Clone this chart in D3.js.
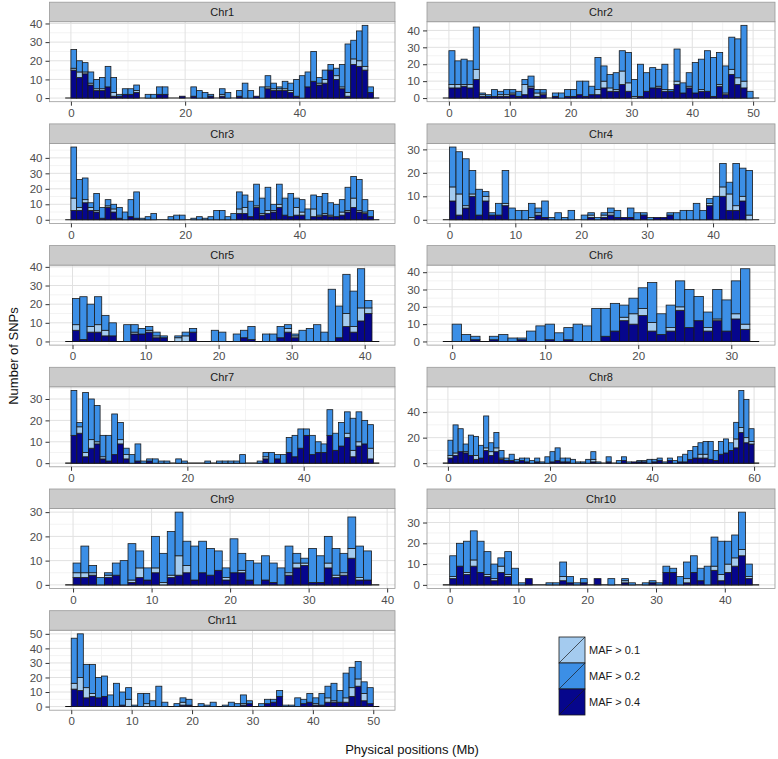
<!DOCTYPE html>
<html>
<head>
<meta charset="utf-8">
<script src="https://cdn.jsdelivr.net/npm/d3@7"></script>
<style>
  body { margin: 0; background: #fff; }
  text { font-family: "Liberation Sans", Arial, sans-serif; }
</style>
</head>
<body>
<svg id="chart" width="778" height="759"></svg>
<script>
// one row per 1 Mb bin: [all SNPs, MAF > 0.4 part, MAF > 0.1 part]; MAF > 0.2 part is the rest
var chr1 = [[26,15,1],[20,11,3],[19,13,1],[14,7,1],[10,4,1],[11,4,1],[17,6,0],[11,1,2],[2,1,0],[5,2,0],
  [5,2,0],[7,3,1],[0,0,0],[2,0,0],[2,0,0],[6,2,0],[6,2,0],[0,0,0],[0,0,0],[1,1,0],
  [0,0,0],[6,1,0],[4,0,0],[3,0,0],[2,1,0],[0,0,0],[5,1,1],[3,0,0],[0,0,0],[4,1,0],
  [8,0,0],[4,0,0],[1,1,0],[6,0,0],[12,5,1],[8,4,1],[6,4,1],[9,4,1],[8,3,1],[10,1,0],
  [12,0,0],[14,6,0],[25,9,0],[11,7,1],[15,8,2],[18,15,0],[16,10,2],[18,5,1],[29,1,2],[31,18,3],
  [36,17,3],[39,15,2],[6,3,0]];
var chr2 = [[28,6,2],[22,6,2],[23,7,1],[22,6,2],[42,11,6],[3,1,1],[2,1,0],[5,1,0],[4,1,1],[5,1,1],
  [5,2,1],[4,1,0],[11,2,6],[13,6,1],[5,1,2],[5,2,1],[0,0,0],[3,1,0],[3,0,0],[5,1,0],
  [5,1,0],[10,2,0],[10,1,0],[7,2,0],[24,2,3],[19,6,4],[14,4,2],[15,4,1],[28,8,8],[27,4,5],
  [11,0,1],[20,1,0],[15,4,0],[18,6,0],[17,6,1],[20,4,1],[5,4,0],[29,8,2],[9,3,0],[15,6,1],
  [21,3,0],[23,4,1],[28,4,0],[24,1,0],[27,7,1],[19,2,1],[36,14,3],[35,8,4],[43,6,4],[4,0,0]];
var chr3 = [[47,6,8],[26,6,2],[27,11,2],[11,6,2],[17,5,1],[8,1,0],[13,8,1],[10,5,2],[8,1,0],[5,0,0],
  [13,2,0],[18,1,0],[1,0,0],[2,0,0],[4,0,0],[0,0,0],[0,0,0],[2,0,0],[3,0,0],[3,0,0],
  [0,0,0],[1,0,0],[2,0,0],[1,0,0],[2,0,0],[6,0,0],[6,0,0],[2,0,0],[4,0,0],[18,4,3],
  [16,4,4],[12,2,0],[23,8,1],[14,3,1],[21,4,2],[10,5,1],[23,8,2],[14,3,0],[17,2,0],[14,3,5],
  [13,3,2],[7,0,0],[16,2,5],[15,2,1],[17,3,1],[11,2,1],[10,2,0],[13,3,2],[21,5,1],[28,8,6],
  [26,5,1],[13,4,1],[6,2,0]];
var chr4 = [[31,8,6],[29,2,9],[26,5,1],[21,10,1],[13,2,0],[12,8,2],[3,2,0],[7,2,0],[21,6,1],[5,0,0],
  [4,0,0],[4,0,0],[7,0,1],[5,2,1],[8,1,0],[1,0,0],[3,0,0],[1,0,0],[4,0,0],[0,0,0],
  [2,0,0],[3,1,1],[1,0,0],[3,1,1],[5,2,1],[4,1,0],[1,1,0],[5,1,0],[3,0,0],[3,2,0],
  [1,0,0],[1,1,0],[1,1,0],[3,2,0],[3,0,0],[4,0,0],[4,0,0],[7,0,0],[4,0,0],[9,6,1],
  [10,0,0],[24,10,4],[16,4,7],[24,4,2],[22,8,2],[21,0,2]];
var chr5 = [[23,6,3],[24,1,0],[20,5,3],[24,5,4],[14,3,3],[10,3,0],[0,0,0],[9,0,0],[9,4,1],[7,4,0],
  [8,5,1],[5,2,1],[3,2,0],[0,0,0],[3,0,2],[5,0,3],[7,5,0],[0,0,0],[0,0,0],[6,0,0],
  [5,0,0],[0,0,0],[4,0,0],[6,2,0],[8,1,0],[0,0,0],[4,0,0],[4,0,0],[8,2,0],[9,5,2],
  [4,2,1],[6,0,0],[7,0,0],[9,0,0],[5,0,0],[28,0,0],[19,2,0],[36,8,7],[27,5,3],[39,11,7],
  [22,15,3]];
var chr6 = [[10,0,0],[4,0,0],[3,1,0],[0,0,0],[3,1,0],[4,0,0],[2,0,0],[2,1,0],[6,0,0],[9,0,0],
  [10,1,0],[5,0,0],[8,1,0],[10,0,0],[9,0,0],[19,0,0],[19,3,0],[22,6,0],[21,12,2],[25,10,6],
  [31,15,4],[34,6,5],[16,4,0],[21,6,2],[35,18,2],[30,8,0],[26,12,0],[17,6,2],[30,12,1],[24,6,0],
  [35,13,3],[42,7,3]];
var chr7 = [[34,13,0],[19,14,3],[33,3,2],[30,7,4],[27,9,1],[13,2,1],[13,1,0],[23,4,0],[19,9,2],[7,2,2],
  [4,0,0],[9,1,0],[1,0,0],[2,1,0],[2,0,0],[1,0,0],[1,0,0],[0,0,0],[2,0,0],[1,0,0],
  [0,0,0],[0,0,0],[0,0,0],[1,0,0],[0,0,0],[1,0,0],[1,0,0],[1,0,0],[1,0,0],[4,0,0],
  [0,0,0],[0,0,0],[1,0,0],[5,2,1],[5,0,0],[4,2,0],[4,0,0],[12,5,0],[13,3,0],[16,7,0],
  [16,13,0],[13,4,0],[10,5,0],[9,5,0],[25,13,0],[14,6,0],[19,8,0],[24,12,2],[21,3,3],[24,8,2],
  [20,9,0],[18,2,5]];
var chr8 = [[18,4,2],[30,6,2],[27,9,0],[15,8,1],[22,6,0],[21,3,3],[14,4,0],[37,10,2],[16,6,3],[24,9,3],
  [10,3,1],[4,2,0],[7,2,0],[3,1,0],[4,2,0],[4,1,0],[2,0,0],[4,1,0],[1,0,0],[5,0,0],
  [9,1,0],[12,2,0],[4,1,0],[4,1,0],[3,0,0],[1,0,0],[1,0,0],[3,0,0],[9,1,2],[1,0,0],
  [0,0,0],[5,1,0],[0,0,0],[2,0,0],[5,2,0],[1,0,0],[1,1,0],[2,1,0],[2,1,0],[3,0,0],
  [3,1,0],[4,2,0],[1,0,0],[4,2,0],[2,0,0],[5,1,0],[7,1,0],[10,3,0],[13,4,0],[16,4,3],
  [17,4,3],[17,3,0],[10,2,0],[17,7,0],[19,8,0],[16,10,0],[32,12,7],[57,24,4],[50,16,4],[27,15,2]];
var chr9 = [[9,3,2],[16,3,2],[8,4,1],[3,0,0],[5,3,1],[9,4,0],[10,0,0],[17,1,1],[14,3,4],[7,2,0],
  [20,5,2],[13,0,1],[22,3,1],[30,4,8],[18,5,3],[16,2,0],[18,5,0],[15,4,0],[14,6,0],[7,2,1],
  [19,5,0],[13,5,1],[10,2,0],[9,0,0],[12,2,0],[9,1,0],[7,0,0],[16,4,1],[13,7,2],[11,8,1],
  [15,1,0],[12,1,0],[20,7,2],[15,3,1],[13,4,1],[28,11,4],[16,2,1],[14,2,0]];
var chr10 = [[14,3,1],[20,9,0],[21,5,1],[26,9,3],[21,6,0],[16,4,1],[10,2,1],[13,6,3],[16,4,1],[8,0,0],
  [1,0,0],[3,3,0],[0,0,0],[0,0,0],[1,0,0],[1,0,0],[11,2,2],[4,1,0],[1,0,0],[3,1,0],
  [0,0,0],[3,3,0],[0,0,0],[3,0,0],[0,0,0],[3,1,1],[1,0,0],[0,0,0],[1,0,0],[2,1,0],
  [1,0,0],[9,6,0],[8,6,0],[4,0,0],[11,1,2],[14,6,0],[8,2,0],[9,0,0],[23,7,2],[21,2,3],
  [21,6,4],[24,9,4],[35,14,3],[10,3,1]];
var chr11 = [[47,12,4],[50,11,9],[29,6,7],[29,7,2],[20,6,0],[21,7,0],[8,0,0],[16,0,0],[10,1,0],[13,0,5],
  [1,0,0],[9,0,0],[9,0,2],[4,0,0],[14,0,0],[3,0,0],[0,0,0],[2,0,0],[6,1,2],[5,1,0],
  [0,0,0],[2,0,0],[1,0,0],[3,0,0],[0,0,0],[1,0,0],[3,0,0],[2,0,0],[8,1,1],[4,2,0],
  [0,0,0],[2,0,0],[5,2,0],[5,3,0],[11,7,0],[1,0,0],[1,0,0],[6,0,0],[5,2,0],[9,3,0],
  [6,1,1],[9,1,0],[14,3,3],[16,3,1],[11,3,0],[23,3,3],[27,7,6],[31,14,5],[17,4,5],[13,2,0]];

var chrNames = ['Chr1','Chr2','Chr3','Chr4','Chr5','Chr6','Chr7','Chr8','Chr9','Chr10','Chr11'];
var chrBins = [chr1, chr2, chr3, chr4, chr5, chr6, chr7, chr8, chr9, chr10, chr11];
var xTickStep = [20, 10, 20, 10, 10, 10, 20, 20, 10, 10, 10];
var yTickStep = [10, 10, 10, 10, 10, 10, 10, 20, 10, 10, 10];

var mafLabels = ['MAF > 0.1', 'MAF > 0.2', 'MAF > 0.4'];
var mafColors = ['#a4cbef', '#3c8fe6', '#06068c'];

var svg = d3.select('#chart');
var colLeft = [49.5, 427], colRight = [395, 775];
var firstBottom = 101.7, rowStep = 121.7, panelH = 80, stripH = 19.5;

var drawPanel = function(bins, i) {
  var col = i % 2, row = Math.floor(i / 2);
  var left = colLeft[col], right = colRight[col];
  var bottom = firstBottom + row * rowStep, top = bottom - panelH;
  var n = bins.length;
  // empty bins on either side give the black baseline
  var lo = -1, hi = n + 1;
  var pad = (hi - lo) * 0.05;
  var maxY = d3.max(bins, function(d) { return d[0]; });

  var x = d3.scaleLinear().domain([lo - pad, hi + pad]).range([left, right]);
  var y = d3.scaleLinear().domain([-maxY * 0.05, maxY * 1.05]).range([bottom, top]);

  var xt = d3.range(0, hi + pad, xTickStep[i]);
  var yt = d3.range(0, maxY * 1.05, yTickStep[i]);
  var xm = d3.range(-xTickStep[i] / 2, hi + pad, xTickStep[i]).filter(function(v) { return v > x.domain()[0]; });
  var ym = d3.range(yTickStep[i] / 2, maxY * 1.05, yTickStep[i]);

  var g = svg.append('g');
  g.append('rect').attr('x', left).attr('y', top).attr('width', right - left).attr('height', panelH)
    .attr('fill', '#fff');

  var grid = g.append('g');
  grid.selectAll('.xm').data(xm).enter().append('line')
    .attr('x1', function(d) { return x(d); }).attr('x2', function(d) { return x(d); })
    .attr('y1', top).attr('y2', bottom).attr('stroke', '#f3f3f3');
  grid.selectAll('.ym').data(ym).enter().append('line')
    .attr('x1', left).attr('x2', right)
    .attr('y1', function(d) { return y(d); }).attr('y2', function(d) { return y(d); })
    .attr('stroke', '#f3f3f3');
  grid.selectAll('.xM').data(xt).enter().append('line')
    .attr('x1', function(d) { return x(d); }).attr('x2', function(d) { return x(d); })
    .attr('y1', top).attr('y2', bottom).attr('stroke', '#e1e1e1');
  grid.selectAll('.yM').data(yt).enter().append('line')
    .attr('x1', left).attr('x2', right)
    .attr('y1', function(d) { return y(d); }).attr('y2', function(d) { return y(d); })
    .attr('stroke', '#e1e1e1');

  g.append('line').attr('x1', x(lo)).attr('x2', x(hi)).attr('y1', y(0)).attr('y2', y(0))
    .attr('stroke', '#111').attr('stroke-width', 1.1);

  var segs = [];
  bins.forEach(function(d, k) {
    var dark = d[1], light = d[2], med = d[0] - d[1] - d[2];
    if (dark > 0) segs.push({ k: k, y0: 0, y1: dark, c: mafColors[2] });
    if (light > 0) segs.push({ k: k, y0: dark, y1: dark + light, c: mafColors[0] });
    if (med > 0) segs.push({ k: k, y0: dark + light, y1: d[0], c: mafColors[1] });
  });
  g.append('g').selectAll('rect').data(segs).enter().append('rect')
    .attr('x', function(d) { return x(d.k); })
    .attr('width', function(d) { return x(d.k + 1) - x(d.k); })
    .attr('y', function(d) { return y(d.y1); })
    .attr('height', function(d) { return y(d.y0) - y(d.y1); })
    .attr('fill', function(d) { return d.c; })
    .attr('stroke', '#1a1a1a').attr('stroke-width', 0.8);

  g.append('rect').attr('x', left).attr('y', top).attr('width', right - left).attr('height', panelH)
    .attr('fill', 'none').attr('stroke', '#9a9a9a').attr('stroke-width', 0.8);

  // strip
  g.append('rect').attr('x', left).attr('y', top - stripH).attr('width', right - left).attr('height', stripH)
    .attr('fill', '#cbcbcb').attr('stroke', '#9a9a9a').attr('stroke-width', 0.8);
  g.append('text').attr('x', (left + right) / 2).attr('y', top - stripH / 2)
    .attr('text-anchor', 'middle').attr('dominant-baseline', 'central')
    .attr('font-size', 11).attr('fill', '#1a1a1a').text(chrNames[i]);

  var ax = g.append('g').attr('transform', 'translate(0,' + bottom + ')')
    .call(d3.axisBottom(x).tickValues(xt).tickSize(4).tickPadding(3).tickFormat(d3.format('d')));
  var ay = g.append('g').attr('transform', 'translate(' + left + ',0)')
    .call(d3.axisLeft(y).tickValues(yt).tickSize(4).tickPadding(3).tickFormat(d3.format('d')));
  [ax, ay].forEach(function(a) {
    a.select('.domain').remove();
    a.selectAll('line').attr('stroke', '#333');
    a.selectAll('text').attr('fill', '#4d4d4d').attr('font-size', 11.5)
      .attr('font-family', '"Liberation Sans", Arial, sans-serif');
  });
};

chrBins.forEach(drawPanel);

svg.append('text').attr('transform', 'translate(13,356) rotate(-90)')
  .attr('text-anchor', 'middle').attr('dominant-baseline', 'central')
  .attr('font-size', 13).attr('fill', '#111').text('Number of SNPs');
svg.append('text').attr('x', 412).attr('y', 749)
  .attr('text-anchor', 'middle').attr('dominant-baseline', 'central')
  .attr('font-size', 13).attr('fill', '#111').text('Physical positions (Mb)');

// legend
var legend = svg.append('g').attr('transform', 'translate(559,637)');
var keySize = 26;
legend.selectAll('rect').data(mafLabels).enter().append('rect')
  .attr('x', 0).attr('y', function(d, j) { return j * keySize; })
  .attr('width', keySize).attr('height', keySize)
  .attr('fill', function(d, j) { return mafColors[j]; })
  .attr('stroke', '#1a1a1a').attr('stroke-width', 0.8);
legend.selectAll('line').data(mafLabels).enter().append('line')
  .attr('x1', 0).attr('x2', keySize)
  .attr('y1', function(d, j) { return (j + 1) * keySize; })
  .attr('y2', function(d, j) { return j * keySize; })
  .attr('stroke', '#1a1a1a').attr('stroke-width', 0.7);
legend.selectAll('text').data(mafLabels).enter().append('text')
  .attr('x', keySize + 4).attr('y', function(d, j) { return j * keySize + keySize / 2; })
  .attr('dominant-baseline', 'central').attr('font-size', 11).attr('fill', '#1a1a1a')
  .text(function(d) { return d; });
</script>
</body>
</html>
